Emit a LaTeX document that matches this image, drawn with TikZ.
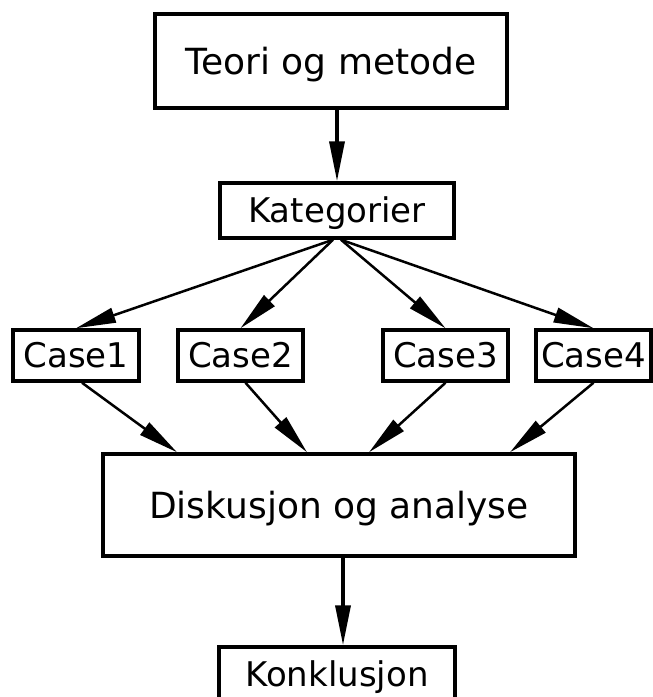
\documentclass[tikz,border=0pt]{standalone}
\usepackage{fontspec}
\setmainfont{DejaVu Sans}
\usetikzlibrary{arrows.meta}

\begin{document}
\begin{tikzpicture}[x=1pt, y=-1pt, font=\fontsize{34}{40}\selectfont, text height=24.8pt, text depth=0pt,
  boks/.style={rectangle, draw, line width=3.5pt, inner sep=0pt},
  storboks/.style={boks, font=\fontsize{36}{42}\selectfont, text height=26.2pt},
  casebox/.style={boks, minimum width=125pt, minimum height=51pt},
  pil/.style={-{Triangle[length=40pt, width=15pt]}, line width=2.5pt},
  tykkpil/.style={pil, line width=3.5pt}]
  \clip (0,0) rectangle (653,697);
  \node[storboks, minimum width=352pt, minimum height=94pt] (teori) at (331,61) {Teori og metode};
  \node[boks, minimum width=234pt, minimum height=55pt] (kat) at (337,210.5) {Kategorier};
  \node[casebox, minimum width=126pt] (case1) at (76,355.5) {Case1};
  \node[casebox] (case2) at (240.5,355.5) {Case2};
  \node[casebox] (case3) at (445.5,355.5) {Case3};
  \node[casebox, minimum width=115pt] (case4) at (593.5,355.5) {Case4};
  \node[storboks, minimum width=472pt, minimum height=102pt] (disk) at (339,505) {Diskusjon og analyse};
  \node[boks, minimum width=236pt, minimum height=55pt] (konk) at (337,674.5) {Konklusjon};

  \draw[tykkpil] (teori.south -| kat.north) -- (kat.north);
  \draw[pil] ([xshift=-4pt]kat.south) -- (case1.north);
  \draw[pil] ([xshift=-4pt]kat.south) -- (case2.north);
  \draw[pil] ([xshift=4pt]kat.south) -- (case3.north);
  \draw[pil] ([xshift=4pt]kat.south) -- (case4.north);
  \draw[pil] ([xshift=6pt]case1.south) -- ([xshift=-162pt]disk.north);
  \draw[pil] ([xshift=5pt]case2.south) -- ([xshift=-32pt]disk.north);
  \draw[pil] (case3.south) -- ([xshift=30pt]disk.north);
  \draw[pil] (case4.south) -- ([xshift=171pt]disk.north);
  \draw[tykkpil] ([xshift=4pt]disk.south) -- ([xshift=4pt]disk.south |- konk.north);
\end{tikzpicture}
\end{document}
